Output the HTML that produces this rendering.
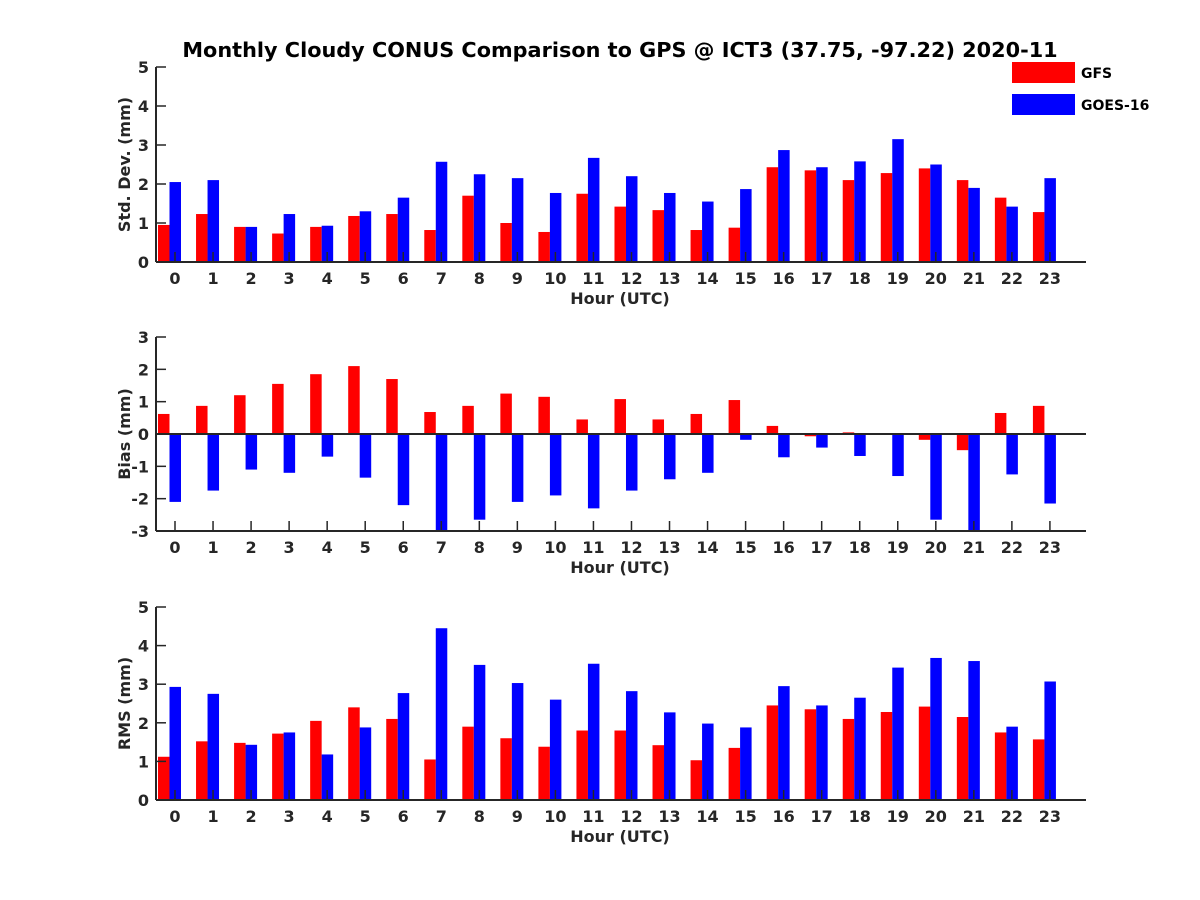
<!DOCTYPE html>
<html><head><meta charset="utf-8"><style>
body{margin:0;background:#fff}
svg{display:block;font-family:"DejaVu Sans","Liberation Sans",sans-serif;font-weight:bold}
</style></head><body>
<svg id="c" width="1200" height="900" xmlns="http://www.w3.org/2000/svg"></svg>
<script>
const hours=[0,1,2,3,4,5,6,7,8,9,10,11,12,13,14,15,16,17,18,19,20,21,22,23];
const stdGFS=[0.95,1.23,0.9,0.73,0.9,1.18,1.23,0.82,1.7,1.0,0.77,1.75,1.42,1.33,0.82,0.88,2.43,2.35,2.1,2.28,2.4,2.1,1.65,1.28];
const stdGOES=[2.05,2.1,0.9,1.23,0.93,1.3,1.65,2.57,2.25,2.15,1.77,2.67,2.2,1.77,1.55,1.87,2.87,2.43,2.58,3.15,2.5,1.9,1.42,2.15];
const biasGFS=[0.62,0.87,1.2,1.55,1.85,2.1,1.7,0.68,0.87,1.25,1.15,0.45,1.08,0.45,0.62,1.05,0.25,-0.07,0.05,0.02,-0.18,-0.5,0.65,0.87];
const biasGOES=[-2.1,-1.75,-1.1,-1.2,-0.7,-1.35,-2.2,-3,-2.65,-2.1,-1.9,-2.3,-1.75,-1.4,-1.2,-0.18,-0.72,-0.42,-0.68,-1.3,-2.65,-3,-1.25,-2.15];
const rmsGFS=[1.12,1.52,1.48,1.72,2.05,2.4,2.1,1.05,1.9,1.6,1.38,1.8,1.8,1.42,1.03,1.35,2.45,2.35,2.1,2.28,2.42,2.15,1.75,1.57];
const rmsGOES=[2.93,2.75,1.43,1.75,1.18,1.88,2.77,4.45,3.5,3.03,2.6,3.53,2.82,2.27,1.98,1.88,2.95,2.45,2.65,3.43,3.68,3.6,1.9,3.07];
const stdTicks=[0,1,2,3,4,5];
const biasTicks=[-3,-2,-1,0,1,2,3];
const rmsTicks=[0,1,2,3,4,5];

const svg=document.getElementById('c');
const NS='http://www.w3.org/2000/svg';
function mk(tag,attrs,parent){const e=document.createElementNS(NS,tag);for(const k in attrs)e.setAttribute(k,attrs[k]);(parent||svg).appendChild(e);return e;}
const X0=156,X1=1086;
const xs=h=>175+h*38.04;
const TXT='#262626';

function panel(name,top,bot,ymin,ymax,ticks,gfs,goes,ylabel,zero){
  const g=mk('g',{});
  
  
  const ys=v=>bot-(v-ymin)/(ymax-ymin)*(bot-top);
  const clamp=v=>Math.max(ymin,Math.min(ymax,v));
  const base=ys(Math.max(ymin,0));
  hours.forEach((h,i)=>{
    const x=xs(h);
    [[gfs[i],'#ff0000',x-17,'bar-gfs-'+h],[goes[i],'#0000ff',x-5.5,'bar-goes16-'+h]].forEach(([v,c,l,n])=>{
      const y=ys(clamp(v));
      const r=mk('rect',{x:Math.max(l,X0),y:Math.min(y,base),width:11.5-(Math.max(l,X0)-l),height:Math.abs(base-y),fill:c},g);
      
      
    });
  });
  mk('line',{x1:X0,y1:top,x2:X0,y2:bot,stroke:TXT,'stroke-width':2},g);
  mk('line',{x1:X0,y1:bot,x2:X1,y2:bot,stroke:TXT,'stroke-width':2},g);
  if(zero) mk('line',{x1:X0,y1:ys(0),x2:X1,y2:ys(0),stroke:TXT,'stroke-width':2},g);
  ticks.forEach(t=>{
    const y=ys(t);
    mk('line',{x1:X0,y1:y,x2:X0+10,y2:y,stroke:TXT,'stroke-width':1.5},g);
    const tx=mk('text',{x:X0-7,y:y+6,'text-anchor':'end','font-size':16,fill:TXT},g);
    tx.textContent=t;
    
    
  });
  hours.forEach(h=>{
    const x=xs(h);
    mk('line',{x1:x,y1:bot,x2:x,y2:bot-10,stroke:TXT,'stroke-width':1.5},g);
    const tx=mk('text',{x:x,y:bot+22,'text-anchor':'middle','font-size':16,fill:TXT},g);
    tx.textContent=h;
    
    
  });
  const xl=mk('text',{x:620,y:bot+42,'text-anchor':'middle','font-size':16,fill:TXT},g);
  xl.textContent='Hour (UTC)';
  
  
  const cy=(top+bot)/2;
  const yl=mk('text',{x:0,y:0,'text-anchor':'middle','font-size':16,fill:TXT,transform:`translate(130,${cy}) rotate(-90)`},g);
  yl.textContent=ylabel;
  
  
}
const title=mk('text',{x:620,y:57,'text-anchor':'middle','font-size':20.8,fill:'#000'});
title.textContent='Monthly Cloudy CONUS Comparison to GPS @ ICT3 (37.75, -97.22) 2020-11';



panel('std-dev-panel',67,262,0,5,stdTicks,stdGFS,stdGOES,'Std. Dev. (mm)',false);
panel('bias-panel',337,531,-3,3,biasTicks,biasGFS,biasGOES,'Bias (mm)',true);
panel('rms-panel',607,800,0,5,rmsTicks,rmsGFS,rmsGOES,'RMS (mm)',false);

const lg=mk('g',{});


[['GFS','#ff0000',62],['GOES-16','#0000ff',94]].forEach(([n,c,y])=>{
  const e=mk('g',{},lg);
  
  
  mk('rect',{x:1012,y:y,width:63,height:21,fill:c},e);
  const t=mk('text',{x:1081,y:y+16,'font-size':14,fill:'#000'},e);
  t.textContent=n;
});
</script>
</body></html>
